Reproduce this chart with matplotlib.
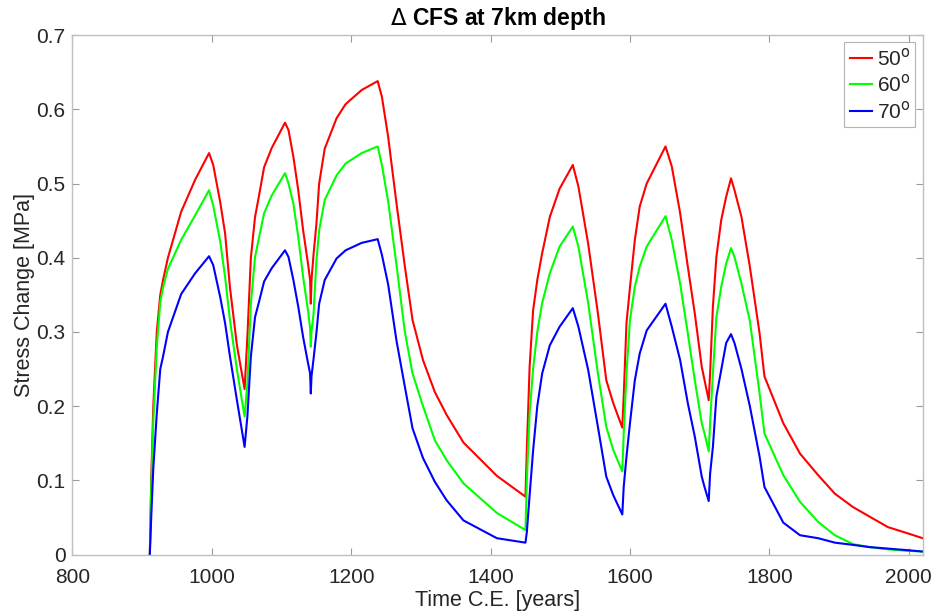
import matplotlib
matplotlib.use("Agg")
import matplotlib.pyplot as plt

plt.rcParams['font.family'] = ['Liberation Sans', 'DejaVu Sans']

years = [911, 913, 916, 921, 926, 930, 937, 956, 976, 996,
         1002, 1012, 1019, 1026, 1036, 1047, 1051, 1056, 1062, 1067,
         1075, 1086, 1105, 1110, 1117, 1124, 1131, 1138, 1141, 1142,
         1143, 1146, 1150, 1154, 1162, 1179, 1192, 1215, 1238, 1244,
         1253, 1265, 1277, 1288, 1303, 1320, 1337, 1361, 1409, 1450,
         1452, 1456, 1461, 1467, 1474, 1485, 1499, 1518, 1526, 1540,
         1554, 1566, 1576, 1589, 1591, 1595, 1600, 1607, 1614, 1624,
         1651, 1660, 1672, 1683, 1693, 1703, 1707, 1713, 1715, 1719,
         1724, 1731, 1738, 1745, 1750, 1760, 1772, 1786, 1793, 1820,
         1844, 1870, 1894, 1920, 1944, 1970, 1997, 2020]

cfs_50 = [0.0, 0.10, 0.20, 0.30, 0.35, 0.37, 0.40, 0.462, 0.505, 0.541,
          0.525, 0.475, 0.433, 0.360, 0.282, 0.223, 0.293, 0.40, 0.455, 0.480,
          0.522, 0.548, 0.582, 0.572, 0.536, 0.491, 0.437, 0.392, 0.370, 0.338,
          0.37, 0.405, 0.445, 0.50, 0.547, 0.588, 0.607, 0.626, 0.638, 0.617,
          0.563, 0.473, 0.388, 0.316, 0.262, 0.219, 0.188, 0.151, 0.106, 0.078,
          0.141, 0.253, 0.329, 0.37, 0.406, 0.455, 0.493, 0.525, 0.496, 0.419,
          0.325, 0.235, 0.204, 0.171, 0.213, 0.312, 0.36, 0.424, 0.469, 0.500,
          0.550, 0.523, 0.460, 0.388, 0.325, 0.253, 0.235, 0.208, 0.244, 0.334,
          0.401, 0.451, 0.482, 0.507, 0.491, 0.455, 0.388, 0.298, 0.240, 0.177,
          0.136, 0.107, 0.082, 0.064, 0.051, 0.037, 0.029, 0.022]

cfs_60 = [0.0, 0.09, 0.18, 0.28, 0.34, 0.36, 0.385, 0.424, 0.457, 0.491,
          0.470, 0.422, 0.374, 0.316, 0.249, 0.186, 0.231, 0.338, 0.401, 0.424,
          0.460, 0.484, 0.514, 0.500, 0.473, 0.428, 0.374, 0.329, 0.305, 0.280,
          0.30, 0.325, 0.395, 0.437, 0.478, 0.511, 0.527, 0.541, 0.550, 0.525,
          0.476, 0.390, 0.300, 0.244, 0.200, 0.154, 0.127, 0.096, 0.056, 0.033,
          0.10, 0.19, 0.25, 0.30, 0.339, 0.379, 0.415, 0.442, 0.415, 0.339,
          0.244, 0.172, 0.141, 0.112, 0.163, 0.244, 0.316, 0.361, 0.388, 0.415,
          0.456, 0.424, 0.365, 0.298, 0.235, 0.177, 0.163, 0.139, 0.177, 0.244,
          0.320, 0.361, 0.392, 0.413, 0.401, 0.365, 0.315, 0.217, 0.163, 0.107,
          0.071, 0.044, 0.026, 0.014, 0.010, 0.007, 0.005, 0.004]

cfs_70 = [0.0, 0.05, 0.116, 0.19, 0.25, 0.267, 0.300, 0.351, 0.379, 0.402,
          0.390, 0.347, 0.312, 0.267, 0.208, 0.145, 0.186, 0.267, 0.320, 0.338,
          0.368, 0.386, 0.410, 0.401, 0.370, 0.334, 0.293, 0.258, 0.244, 0.217,
          0.240, 0.264, 0.298, 0.338, 0.370, 0.399, 0.410, 0.420, 0.425, 0.404,
          0.364, 0.288, 0.226, 0.170, 0.13, 0.098, 0.073, 0.046, 0.022, 0.016,
          0.03, 0.08, 0.14, 0.20, 0.244, 0.282, 0.307, 0.332, 0.307, 0.249,
          0.172, 0.105, 0.080, 0.054, 0.091, 0.132, 0.177, 0.235, 0.271, 0.302,
          0.338, 0.307, 0.262, 0.204, 0.159, 0.105, 0.091, 0.072, 0.109, 0.145,
          0.213, 0.249, 0.285, 0.297, 0.285, 0.250, 0.200, 0.132, 0.091, 0.043,
          0.026, 0.022, 0.016, 0.013, 0.010, 0.008, 0.006, 0.004]

labels = ['50$^{\\mathrm{o}}$', '60$^{\\mathrm{o}}$', '70$^{\\mathrm{o}}$']
colors = ['#ff0000', '#00ff00', '#0000ff']
xticks = [800, 1000, 1200, 1400, 1600, 1800, 2000]
yticks = [0, 0.1, 0.2, 0.3, 0.4, 0.5, 0.6, 0.7]

fig = plt.figure(figsize=(9.35, 6.16), dpi=100)
ax = fig.add_axes([0.0775, 0.0998, 0.9093, 0.8432])

for vals, lab, col in zip([cfs_50, cfs_60, cfs_70], labels, colors):
    ax.plot(years, vals, color=col, lw=1.5, label=lab)

ax.set_xlim(800, 2020)
ax.set_ylim(0, 0.7)
ax.set_xticks(xticks)
ax.set_yticks(yticks)
ax.set_yticklabels(['0', '0.1', '0.2', '0.3', '0.4', '0.5', '0.6', '0.7'])

gray = '#262626'
for s in ax.spines.values():
    s.set_color('#bfbfbf')
    s.set_linewidth(1.0)
ax.tick_params(direction='in', top=True, right=True, length=5, width=0.8,
               color='#9a9a9a', labelcolor=gray, labelsize=15)
ax.tick_params(axis='x', pad=10)
ax.tick_params(axis='y', pad=5)

ax.set_xlabel('Time C.E. [years]', fontsize=15.5, color=gray, labelpad=2)
ax.set_ylabel('Stress Change [MPa]', fontsize=15.5, color=gray, labelpad=1)
ax.set_title('$\\Delta$ CFS at 7km depth', fontsize=16.5, fontweight='bold',
             color='black', pad=7)

leg = ax.legend(loc='upper right', fontsize=15, frameon=True, fancybox=False,
                edgecolor='#a0a0a0', handlelength=1.1, handletextpad=0.2,
                borderaxespad=0.35, borderpad=0.25, labelspacing=0.2)
leg.get_frame().set_linewidth(0.8)
for t in leg.get_texts():
    t.set_color(gray)

fig.savefig('out.png', dpi=100)
